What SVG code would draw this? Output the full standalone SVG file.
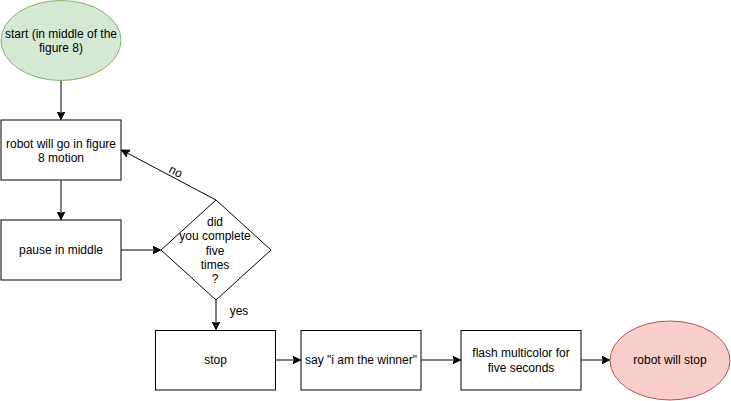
<svg xmlns="http://www.w3.org/2000/svg" width="731" height="401" viewBox="0 0 731 401">
<style>
text{font-family:"Liberation Sans",Arial,sans-serif;font-size:12px;fill:#000;text-anchor:middle}
.box{fill:#fff;stroke:#000;stroke-width:1}
.edge{fill:none;stroke:#000;stroke-width:1}
</style>
<defs>
<marker id="arr" markerWidth="10" markerHeight="10" refX="8" refY="4" orient="auto" markerUnits="userSpaceOnUse">
<path d="M0,0 L8,4 L0,8 L2,4 Z" fill="#000" stroke="#000" stroke-width="1"/>
</marker>
</defs>
<rect width="731" height="401" fill="#fff"/>
<g id="connectors">
<path class="edge" d="M61,80.5 L61,119.5" marker-end="url(#arr)"/>
<path class="edge" d="M61,180.5 L61,219.5" marker-end="url(#arr)"/>
<path class="edge" d="M121,250 L160.5,250" marker-end="url(#arr)"/>
<path class="edge" d="M216,200 L121.5,150" marker-end="url(#arr)"/>
<path class="edge" d="M216,300 L216,329.5" marker-end="url(#arr)"/>
<path class="edge" d="M275.5,360 L300.5,360" marker-end="url(#arr)"/>
<path class="edge" d="M421,360 L460.5,360" marker-end="url(#arr)"/>
<path class="edge" d="M581,360 L609.5,360" marker-end="url(#arr)"/>
<text transform="translate(174,175) rotate(28)">no</text>
<text x="239" y="315">yes</text>
</g>
<g id="start">
<ellipse cx="61" cy="40.5" rx="60" ry="40" fill="#d5e8d4" stroke="#82b366"/>
<text x="61" y="38">start (in middle of the</text>
<text x="61" y="52">figure 8)</text>
</g>
<g id="figure8">
<rect class="box" x="1" y="120" width="120" height="60"/>
<text x="61" y="148">robot will go in figure</text>
<text x="61" y="162">8 motion</text>
</g>
<g id="pause">
<rect class="box" x="1" y="220" width="120" height="60"/>
<text x="61" y="254">pause in middle</text>
</g>
<g id="decision">
<path class="box" d="M216,200 L271,250 L216,300 L161,250 Z"/>
<text x="215" y="225.5">did</text>
<text x="215" y="240">you complete</text>
<text x="215" y="254.5">five</text>
<text x="215" y="269">times</text>
<text x="215" y="283">?</text>
</g>
<g id="stop">
<rect class="box" x="155.5" y="330.5" width="120" height="59.5"/>
<text x="215.5" y="364">stop</text>
</g>
<g id="say">
<rect class="box" x="301" y="330.5" width="120" height="59.5"/>
<text x="361" y="364">say "i am the winner"</text>
</g>
<g id="flash">
<rect class="box" x="461" y="330.5" width="120" height="59.5"/>
<text x="521" y="357">flash multicolor for</text>
<text x="521" y="372">five seconds</text>
</g>
<g id="end">
<ellipse cx="670" cy="360.5" rx="60" ry="39.5" fill="#f8cecc" stroke="#b85450"/>
<text x="670" y="364">robot will stop</text>
</g>
</svg>
